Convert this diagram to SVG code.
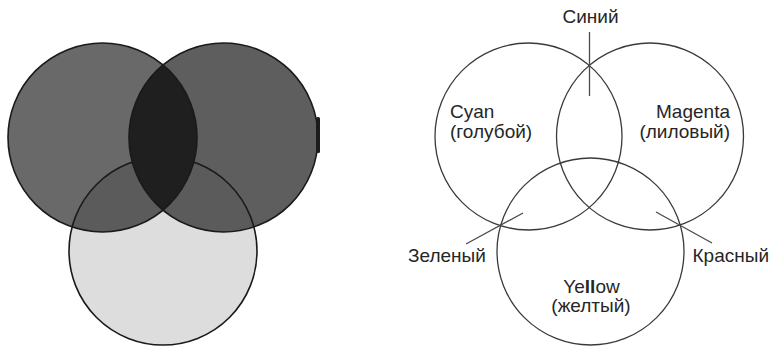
<svg xmlns="http://www.w3.org/2000/svg" width="771" height="346" viewBox="0 0 771 346">
  <style>
    .lbl { font-family: "Liberation Sans", Arial, sans-serif; font-size: 19px; fill: #262626; }
    .ring { fill: none; stroke: #3a3a3a; stroke-width: 1.3; }
    .lead { stroke: #4a4a4a; stroke-width: 1.3; fill: none; }
    .dk { stroke: #1a1a1a; stroke-width: 1.6; fill: none; }
  </style>
  <defs>
    <clipPath id="clipL"><circle cx="102.5" cy="137.5" r="94.5"/></clipPath>
    <clipPath id="clipR"><circle cx="223.5" cy="137.5" r="94.5"/></clipPath>
  </defs>
  <rect width="771" height="346" fill="#ffffff"/>

  <!-- Left: filled subtractive diagram -->
  <g id="filled">
    <circle cx="163" cy="251" r="94" fill="#dddddd"/>
    <circle cx="102.5" cy="137.5" r="94.5" fill="#696969"/>
    <circle cx="223.5" cy="137.5" r="94.5" fill="#5e5e5e"/>
    <circle cx="163" cy="251" r="94" fill="#5b5b5b" clip-path="url(#clipL)"/>
    <circle cx="163" cy="251" r="94" fill="#5b5b5b" clip-path="url(#clipR)"/>
    <circle cx="163" cy="251" r="94" class="dk"/>
    <circle cx="102.5" cy="137.5" r="94.5" fill="#1f1f1f" clip-path="url(#clipR)"/>
    <circle cx="102.5" cy="137.5" r="94.5" class="dk"/>
    <circle cx="223.5" cy="137.5" r="94.5" class="dk"/>
    <rect x="316" y="117" width="4" height="36" rx="1.5" fill="#1c1c1c"/>
  </g>

  <!-- Right: labelled outline diagram -->
  <g id="cyan">
    <circle cx="528.5" cy="136.5" r="93.5" class="ring"/>
    <text class="lbl" x="450" y="118">Cyan</text>
    <text class="lbl" x="450" y="138">(голубой)</text>
  </g>
  <g id="magenta">
    <circle cx="650" cy="136.5" r="93.5" class="ring"/>
    <text class="lbl" x="730" y="118" text-anchor="end">Magenta</text>
    <text class="lbl" x="730" y="138" text-anchor="end">(лиловый)</text>
  </g>
  <g id="yellow">
    <circle cx="590.5" cy="251.5" r="93.5" class="ring"/>
    <text class="lbl" x="591.5" y="293" text-anchor="middle">Ye<tspan font-weight="bold">ll</tspan>ow</text>
    <text class="lbl" x="591" y="312" text-anchor="middle">(желтый)</text>
  </g>
  <g id="blue">
    <text class="lbl" x="590.5" y="23" text-anchor="middle">Синий</text>
  </g>
  <g id="green">
    <text class="lbl" x="408" y="262">Зеленый</text>
  </g>
  <g id="red">
    <text class="lbl" x="769" y="262" text-anchor="end">Красный</text>
  </g>

  <g id="connectors">
    <line class="lead" x1="589.5" y1="32" x2="589.5" y2="96"/>
    <line class="lead" x1="466" y1="244" x2="523" y2="213"/>
    <line class="lead" x1="656" y1="212" x2="712" y2="243"/>
  </g>
</svg>
